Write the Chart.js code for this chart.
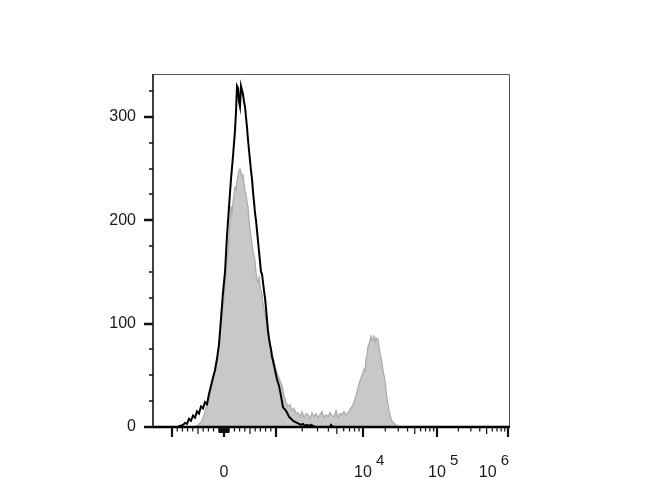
<!DOCTYPE html>
<html><head><meta charset="utf-8">
<script src="https://cdn.jsdelivr.net/npm/chart.js@4.4.0/dist/chart.umd.min.js"></script>
<style>html,body{margin:0;padding:0;background:#fff;}</style>
</head><body>
<canvas id="c" width="670" height="500"></canvas>
<script>
// ---- data (x in display channels of the logicle axis, y = cell counts) ----
const sampleX = [0,41,43,45,47,49,51,53,55,57,59,61,63,65,67,69,71,73,75,77,78,79,80,81,82,83,84,85,86,87,88,89,90,91,92,93,94,95,96,97,98,99,100,101,102,103,104,105,106,107,108,109,110,111,112,113,114,115,117,119,121,123,125,127,129,130,131,133,135,137,139,141,143,145,147,149,151,153,155,157,159,161,163,165,167,169,171,173,175,177,179,181,183,185,187,189,191,193,195,197,199,201,203,205,207,209,211,212,213,214,215,216,217,218,219,220,221,222,223,224,225,226,227,228,229,230,231,232,233,234,235,236,237,238,239,241,243,245,247,356];
const sampleY = [0,0,1,2,4,6,12,18,24,32,40,50,60,71,88,108,125,150,170,200,214,205,218,225,232,230,238,244,248,250,246,242,244,236,229,225,218,213,200,192,184,178,170,166,161,150,142,140,145,138,132,128,120,115,110,104,98,90,80,72,64,56,50,45,40,36,30,24,20,22,16,18,13,14,10,15,9,13,12,8,14,10,13,9,12,15,9,12,10,14,11,10,16,9,13,12,15,11,14,17,20,24,30,38,45,50,56,54,66,70,78,80,84,88,84,86,88,82,86,84,85,78,72,67,62,55,50,45,36,28,22,16,12,8,6,4,2,1,0,0];
const controlX = [0,25,27,30,32,34,36,38,40,42,44,46,48,50,52,54,56,58,60,62,64,66,68,70,72,74,76,78,80,82,83,84,85,86,87,88,89,90,91,92,93,94,95,96,97,98,99,100,101,102,103,104,105,106,107,108,109,110,111,112,113,114,115,116,117,118,119,120,122,124,126,128,130,132,134,136,138,140,142,144,146,148,150,152,154,156,158,160,162,177,178,180,356];
const controlY = [0,0,1,2,4,3,8,6,11,9,15,13,20,18,24,22,32,40,48,55,66,80,105,130,150,185,213,240,262,287,305,330,328,315,310,330,326,322,315,310,300,290,278,268,258,248,240,228,218,207,200,190,180,170,160,150,148,140,132,125,115,104,93,86,80,75,68,64,55,46,40,30,19,17,14,10,8,6,5,4,3,2,3,1,2,1,2,1,0,0,2,0,0];

const yMajorTicks = [0,100,200,300];
const yMinorTicks = [25,50,75,125,150,175,225,250,275,325];
const xMajorTicks = [-1000,0,1000,10000,100000,1000000];
const xLabelValues = [0,10000,100000,1000000];
const xLabelExps = ['', '4', '5', '6'];
const mantissas = [2,3,4,5,6,7,8,9];
const linearMinor = [-900,-800,-700,-600,-500,-400,-300,-200,-100,100,200,300,400,500,600,700,800,900];
const fineMinor = [-90,-80,-70,-60,-50,-40,-30,-20,-10,10,20,30,40,50,60,70,80,90];

const FONT = '"Liberation Sans", Arial, sans-serif';

// ---- logicle-like display transform (value -> display channel) ----
function toChannel(v){
  if (Math.abs(v) <= 1000) return 71 + v*0.052;
  const anchors = [[3,123],[4,210],[5,284],[6,355]];
  const d = Math.log10(v);
  for (let i=0;i<anchors.length-1;i++){
    const [d0,p0]=anchors[i],[d1,p1]=anchors[i+1];
    if (d<=d1) return p0 + (d-d0)/(d1-d0)*(p1-p0);
  }
  return 355;
}

const decor = {
  id:'decor',
  afterDraw(chart){
    const {ctx, chartArea:a, scales:{x,y}} = chart;
    ctx.save();
    // frame
    ctx.strokeStyle='#555'; ctx.lineWidth=1;
    ctx.beginPath(); ctx.moveTo(a.left, a.top+0.5); ctx.lineTo(a.right+0.5, a.top+0.5); ctx.lineTo(a.right+0.5, a.bottom); ctx.stroke();
    ctx.strokeStyle='#000'; ctx.lineWidth=1.5;
    ctx.beginPath(); ctx.moveTo(a.left, a.top); ctx.lineTo(a.left, a.bottom); ctx.stroke();
    ctx.lineWidth=2.5;
    ctx.beginPath(); ctx.moveTo(a.left, a.bottom); ctx.lineTo(a.right+1, a.bottom); ctx.stroke();
    // y ticks
    ctx.strokeStyle='#111';
    yMajorTicks.forEach(v=>{ const py=Math.round(y.getPixelForValue(v)); ctx.lineWidth=2.5; ctx.beginPath(); ctx.moveTo(a.left-9,py); ctx.lineTo(a.left,py); ctx.stroke(); });
    yMinorTicks.forEach(v=>{ const py=Math.round(y.getPixelForValue(v)); ctx.lineWidth=1.5; ctx.beginPath(); ctx.moveTo(a.left-4,py); ctx.lineTo(a.left,py); ctx.stroke(); });
    // x ticks
    const xt = (v,len,w)=>{ const px=x.getPixelForValue(toChannel(v)); ctx.lineWidth=w; ctx.beginPath(); ctx.moveTo(px,a.bottom); ctx.lineTo(px,a.bottom+len); ctx.stroke(); };
    fineMinor.forEach(v=>xt(v,6,1.2));
    linearMinor.forEach(v=>xt(v, Math.abs(v)===500?7:4.5, 1.2));
    [1000,10000,100000].forEach(dec=>mantissas.forEach(m=>xt(dec*m, m===5?7:4.5, 1.2)));
    xMajorTicks.forEach(v=>xt(v,10,2.2));
    // x labels
    ctx.fillStyle='#1a1a1a'; ctx.textBaseline='alphabetic';
    xLabelValues.forEach((v,i)=>{
      const px=x.getPixelForValue(toChannel(v));
      ctx.font='16px '+FONT;
      if (!xLabelExps[i]){ ctx.textAlign='center'; ctx.fillText('0', px, 477); return; }
      ctx.textAlign='left';
      const w=ctx.measureText('10').width;
      ctx.font='15px '+FONT;
      const sw=ctx.measureText(xLabelExps[i]).width;
      let x0 = px - w/2;
      if (x0 + w + 4 + sw > a.right) x0 = a.right - (w + 4 + sw);
      ctx.font='16px '+FONT;
      ctx.fillText('10', x0, 477);
      ctx.font='15px '+FONT;
      ctx.fillText(xLabelExps[i], x0 + w + 4, 465);
    });
    ctx.restore();
  }
};

new Chart(document.getElementById('c'), {
  type:'line',
  data:{ datasets:[
    { label:'control', data:controlX.map((v,i)=>({x:v,y:controlY[i]})), borderColor:'#000', borderWidth:2, fill:false, pointRadius:0, tension:0, order:1 },
    { label:'sample', data:sampleX.map((v,i)=>({x:v,y:sampleY[i]})), borderColor:'#ababab', backgroundColor:'#c8c8c8', borderWidth:1.2, fill:'origin', pointRadius:0, tension:0, order:2 }
  ]},
  options:{
    responsive:false, animation:false, devicePixelRatio:1,
    layout:{padding:{left:0,right:161,top:74,bottom:0}},
    plugins:{legend:{display:false}, tooltip:{enabled:false}},
    scales:{
      x:{type:'linear', min:0, max:356, grid:{display:false, drawTicks:false}, border:{display:false}, ticks:{display:false}, afterFit:s=>{s.height=73;}},
      y:{type:'linear', min:0, max:341.6, grid:{display:false, drawTicks:false}, border:{display:false},
         ticks:{padding:17, color:'#1a1a1a', font:{family:FONT, size:16}},
         afterBuildTicks:s=>{ s.ticks = yMajorTicks.map(v=>({value:v})); },
         afterFit:s=>{s.width=153;}}
    }
  },
  plugins:[decor]
});
</script>
</body></html>
